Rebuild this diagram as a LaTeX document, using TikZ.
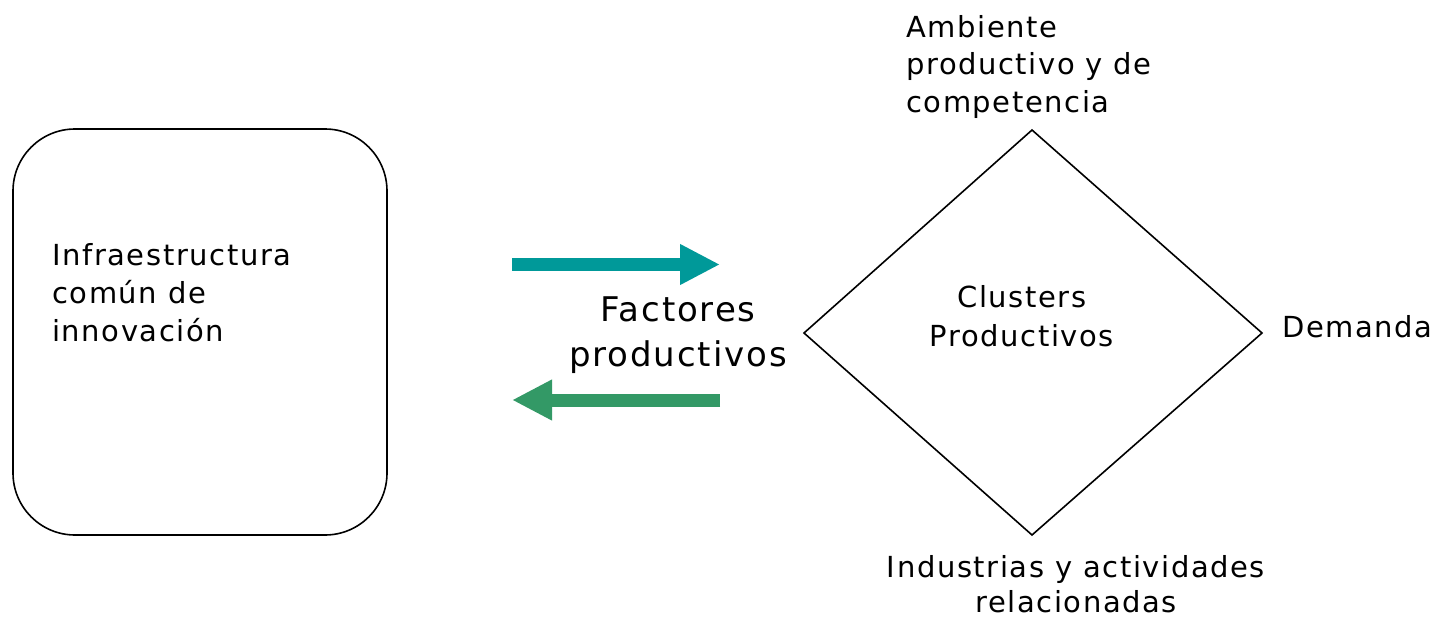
\documentclass[tikz,border=0pt]{standalone}
\usepackage{fontspec}
\setmainfont{DejaVu Sans}[LetterSpace=5.5]
\usetikzlibrary{arrows.meta}
\definecolor{tealA}{RGB}{0,153,153}
\definecolor{greenA}{RGB}{51,153,102}
\begin{document}
\begin{tikzpicture}[x=1pt,y=-1pt,
  lbl/.style={inner sep=0pt,font=\fontsize{29}{38}\selectfont},
  blockarrow/.style={line width=13pt,-{Triangle[length=40pt,width=38pt]}},
  shapeline/.style={draw=black,line width=1.6pt}]
\useasboundingbox (0,0) rectangle (1437,618);
% left rounded box
\draw[shapeline,rounded corners=62pt] (13,129) rectangle (387,535);
\node[lbl,anchor=north west,align=left] (infra) at (52,243) {Infraestructura\\común de\\innovación};
% diamond
\coordinate (dt) at (1032,130);
\coordinate (dl) at (804,333);
\coordinate (dr) at (1262,333);
\coordinate (db) at (1032,535);
\draw[shapeline,line join=miter] (dt) -- (dr) -- (db) -- (dl) -- cycle;
\node[lbl,anchor=north,align=center,font=\fontsize{29}{39}\selectfont] (clus) at (1022,285) {Clusters\\Productivos};
\node[lbl,anchor=north west,align=left,font=\fontsize{29}{37.5}\selectfont] (amb) at (906,15) {Ambiente\\productivo y de\\competencia};
\node[lbl,anchor=base west] (dem) at (1282,337) {Demanda};
\node[lbl,anchor=north,align=center,font=\fontsize{29}{35}\selectfont] (ind) at (1076,555) {Industrias y actividades\\relacionadas};
% factores
\node[inner sep=0pt,font=\fontsize{34}{45}\selectfont,anchor=north,align=center] (fac) at (678,297) {Factores\\productivos};
% arrows
\coordinate (a1s) at (512,264.5);
\coordinate (a1e) at (720,264.5);
\coordinate (a2s) at (720,400);
\coordinate (a2e) at (512,400);
\draw[blockarrow,tealA] (a1s) -- (a1e);
\draw[blockarrow,greenA] (a2s) -- (a2e);
\end{tikzpicture}
\end{document}
